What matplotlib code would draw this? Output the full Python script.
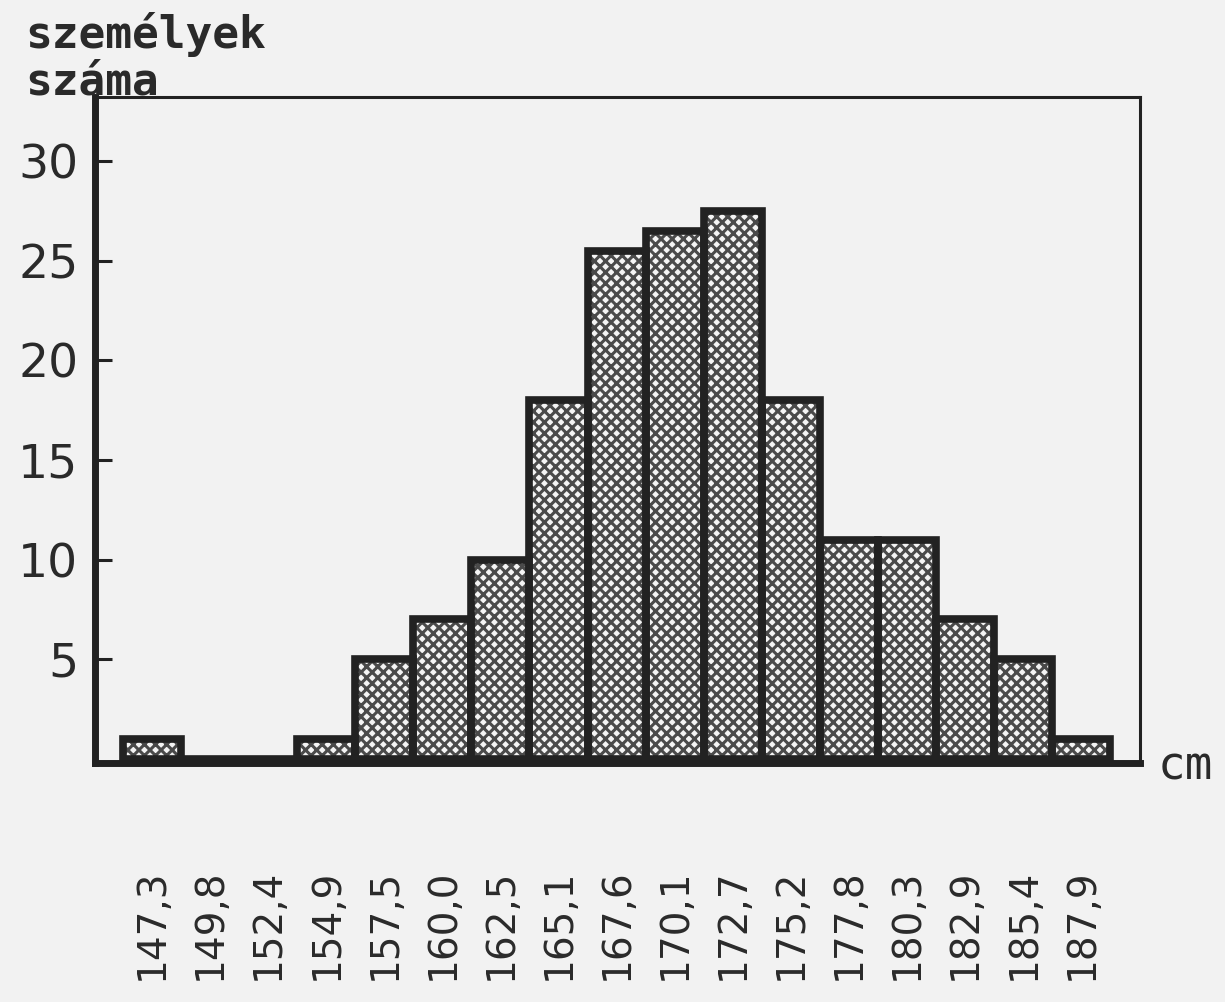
import matplotlib
matplotlib.use("Agg")
import matplotlib.pyplot as plt

# magassag osztalyok es a szemelyek szama
osztalyok = ["147,3", "149,8", "152,4", "154,9", "157,5", "160,0", "162,5", "165,1", "167,6",
             "170,1", "172,7", "175,2", "177,8", "180,3", "182,9", "185,4", "187,9"]
szemelyek = [1, 0, 0, 1, 5, 7, 10, 18, 25.5, 26.5, 27.5, 18, 11, 11, 7, 5, 1]
y_ticks = [5, 10, 15, 20, 25, 30]

plt.rcParams["hatch.linewidth"] = 2.2

fig = plt.figure(figsize=(12.25, 10.02), dpi=100, facecolor="#f2f2f2")
ax = fig.add_axes([95 / 1225, 1 - 763 / 1002, (1140 - 95) / 1225, (763 - 97) / 1002])
ax.set_facecolor("#f2f2f2")

x = list(range(len(osztalyok)))
ax.bar(x, szemelyek, width=1.0, color="#f4f4f4", edgecolor="#4a4a4a", linewidth=0, hatch="xxx")
ax.bar(x, szemelyek, width=1.0, fill=False, edgecolor="#222222", linewidth=5.5)

ax.set_xlim(-0.98, 17.01)
ax.set_ylim(-0.2, 33.2)

for s in ["left", "bottom"]:
    ax.spines[s].set_linewidth(5)
    ax.spines[s].set_color("#222222")
for s in ["top", "right"]:
    ax.spines[s].set_linewidth(2.2)
    ax.spines[s].set_color("#222222")

ax.set_yticks(y_ticks)
ax.set_yticklabels([str(v) for v in y_ticks], family="DejaVu Sans Condensed",
                   fontsize=34, color="#2a2a2a")
ax.tick_params(axis="y", direction="in", length=12, width=2.2, pad=12, color="#222222")

ax.set_xticks(x)
ax.set_xticklabels(osztalyok, rotation=90, fontsize=28, family="DejaVu Sans",
                   color="#2a2a2a", va="top", ha="center")
ax.tick_params(axis="x", length=0, pad=76)

fig.text(25 / 1225, 1 - 12 / 1002, "személyek\nszáma", family="DejaVu Sans Mono",
         fontweight="bold", fontsize=32, color="#2a2a2a", va="top", ha="left",
         linespacing=1.1)
fig.text(1158 / 1225, 1 - 780 / 1002, "cm", family="DejaVu Sans Mono",
         fontsize=33, color="#2a2a2a", va="baseline", ha="left")

fig.savefig("out.png", dpi=100, facecolor=fig.get_facecolor())
